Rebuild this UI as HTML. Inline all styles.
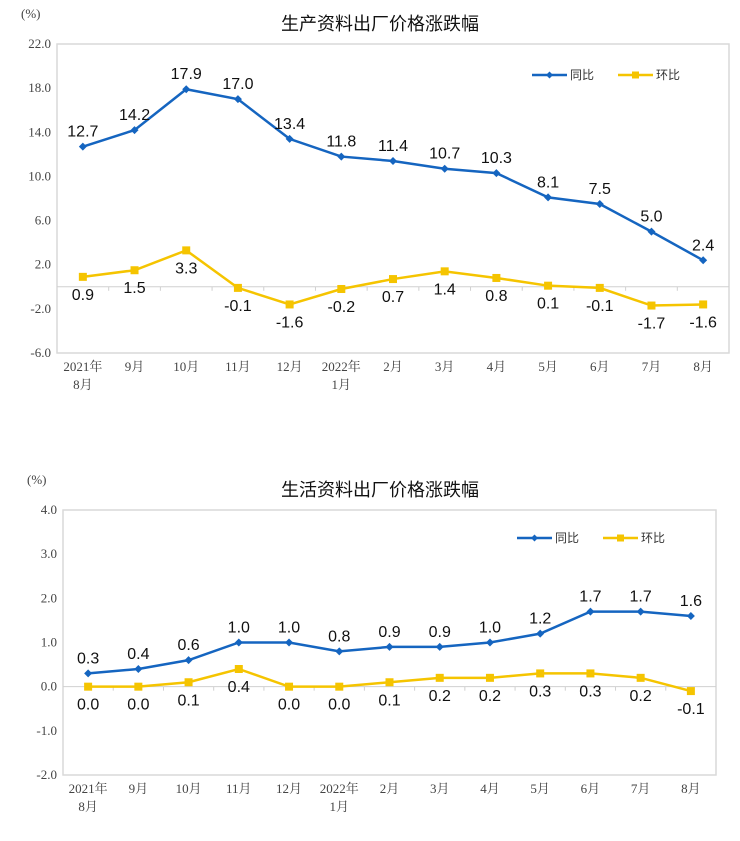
<!DOCTYPE html>
<html><head><meta charset="utf-8"><style>
body{margin:0;background:#fff}
svg text{font-family:"Liberation Sans","Noto Sans CJK SC",sans-serif}
.ser{font-family:"Liberation Serif","Noto Serif CJK SC",serif !important;fill:#444;font-size:13px}
</style></head><body>
<svg id="c" width="740" height="836"></svg>
<script>
const cats1=["2021年|8月","9月","10月","11月","12月","2022年|1月","2月","3月","4月","5月","6月","7月","8月"];
const yoy1=[12.7,14.2,17.9,17.0,13.4,11.8,11.4,10.7,10.3,8.1,7.5,5.0,2.4];
const mom1=[0.9,1.5,3.3,-0.1,-1.6,-0.2,0.7,1.4,0.8,0.1,-0.1,-1.7,-1.6];
const ticks1=[22,18,14,10,6,2,-2,-6];
const yoy2=[0.3,0.4,0.6,1.0,1.0,0.8,0.9,0.9,1.0,1.2,1.7,1.7,1.6];
const mom2=[0.0,0.0,0.1,0.4,0.0,0.0,0.1,0.2,0.2,0.3,0.3,0.2,-0.1];
const ticks2=[4,3,2,1,0,-1,-2];
const NS="http://www.w3.org/2000/svg";
const svg=document.getElementById('c');
function mk(t,a,p){const e=document.createElementNS(NS,t);for(const k in a)e.setAttribute(k,a[k]);(p||svg).appendChild(e);return e;}
function chart(o){
 const g=mk('g',{});
 
 
 const bw=(o.R-o.L)/o.cats.length;
 const x=i=>o.L+bw*(i+0.5);
 const y=v=>o.T+(o.max-v)/(o.max-o.min)*(o.B-o.T);
 const box=mk('rect',{x:o.L,y:o.T,width:o.R-o.L,height:o.B-o.T,fill:'none',stroke:'#d9d9d9','stroke-width':1.5},g);
 
 const z=mk('line',{x1:o.L,x2:o.R,y1:y(0),y2:y(0),stroke:'#d0d0d0'},g);
 
 for(let i=1;i<o.cats.length;i++){mk('line',{x1:o.L+bw*i,x2:o.L+bw*i,y1:y(0),y2:y(0)+4,stroke:'#d0d0d0'},g);}
 o.ticks.forEach(t=>{const e=mk('text',{x:o.L-6,y:y(t)+4,'text-anchor':'end',class:'ser'},g);e.textContent=t.toFixed(1);
  });
 const u=mk('text',{x:o.L-36,y:o.T-26,class:'ser'},g);u.textContent='(%)';
 
 const tt=mk('text',{x:380,y:o.T-14,'text-anchor':'middle','font-size':18,fill:'#111'},g);tt.textContent=o.title;
 
 o.cats.forEach((c,i)=>{c.split('|').forEach((s,j)=>{const e=mk('text',{x:x(i),y:o.B+18+j*18,'text-anchor':'middle',class:'ser'},g);e.textContent=s;
  });});
 function series(vals,col,sq,above,nm){
  const p=mk('polyline',{points:vals.map((v,i)=>x(i)+','+y(v)).join(' '),fill:'none',stroke:col,'stroke-width':2.5},g);
  
  vals.forEach((v,i)=>{let m;
   if(sq)m=mk('rect',{x:x(i)-4,y:y(v)-4,width:8,height:8,fill:col},g);
   else m=mk('polygon',{points:`${x(i)},${y(v)-4} ${x(i)+4},${y(v)} ${x(i)},${y(v)+4} ${x(i)-4},${y(v)}`,fill:col},g);
   
   const t=mk('text',{x:x(i),y:above?y(v)-10:y(v)+23,'text-anchor':'middle','font-size':16,fill:'#111'},g);t.textContent=v.toFixed(1);
   });
 }
 series(o.mom,'#f5c400',true,false,'mom');
 series(o.yoy,'#1565c0',false,true,'yoy');
 const lg=mk('g',{},g);
 [[o.lx,'#1565c0','同比',false],[o.lx+86,'#f5c400','环比',true]].forEach(([lx,c,s,sq])=>{
  mk('line',{x1:lx,x2:lx+35,y1:o.ly,y2:o.ly,stroke:c,'stroke-width':2.5},lg);
  if(sq)mk('rect',{x:lx+14,y:o.ly-3.5,width:7,height:7,fill:c},lg);
  else mk('polygon',{points:`${lx+17.5},${o.ly-3.5} ${lx+21},${o.ly} ${lx+17.5},${o.ly+3.5} ${lx+14},${o.ly}`,fill:c},lg);
  const t=mk('text',{x:lx+38,y:o.ly+4,'font-size':12,fill:'#333'},lg);t.textContent=s;
  });
}
chart({name:'producer-chart',title:'生产资料出厂价格涨跌幅',cats:cats1,yoy:yoy1,mom:mom1,ticks:ticks1,max:22,min:-6,L:57,R:729,T:44,B:353,lx:532,ly:75});
chart({name:'consumer-chart',title:'生活资料出厂价格涨跌幅',cats:cats1,yoy:yoy2,mom:mom2,ticks:ticks2,max:4,min:-2,L:63,R:716,T:510,B:775,lx:517,ly:538});
</script></body></html>
